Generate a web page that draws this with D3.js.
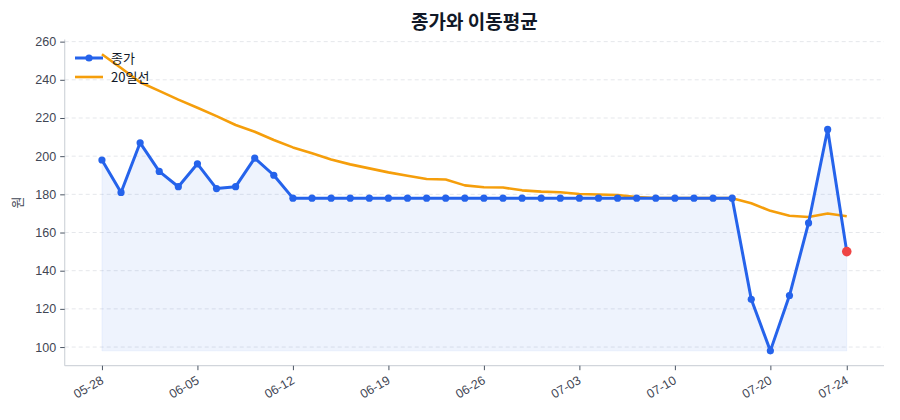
<!DOCTYPE html>
<html>
<head>
<meta charset="utf-8">
<script src="https://cdn.jsdelivr.net/npm/d3@7"></script>
<style>
  body { margin: 0; background: #fff; }
  svg { font-family: "Noto Sans CJK KR", "Noto Sans", sans-serif; }
</style>
</head>
<body>
<svg id="chart" width="900" height="420"></svg>
<script>
// trading dates (MM-DD)
const dates = [
  "05-28", "05-29", "05-30", "06-02", "06-04", "06-05", "06-08", "06-09", "06-10", "06-11",
  "06-12", "06-15", "06-16", "06-17", "06-18", "06-19", "06-22", "06-23", "06-24", "06-25",
  "06-26", "06-29", "06-30", "07-01", "07-02", "07-03", "07-06", "07-07", "07-08", "07-09",
  "07-10", "07-13", "07-14", "07-15", "07-17", "07-20", "07-21", "07-22", "07-23", "07-24"
];

// closing price
const closes = [
  198, 181, 207, 192, 184, 196, 183, 184, 199, 190,
  178, 178, 178, 178, 178, 178, 178, 178, 178, 178,
  178, 178, 178, 178, 178, 178, 178, 178, 178, 178,
  178, 178, 178, 178, 125, 98, 127, 165, 214, 150
];

// 20-day moving average
const ma20 = [
  253.4, 246.2, 238.7, 234.2, 229.6, 225.4, 221.0, 216.3, 212.8, 208.5,
  204.6, 201.5, 198.3, 195.7, 193.6, 191.5, 189.7, 188.0, 187.8, 184.7,
  183.7, 183.55, 182.1, 181.4, 181.1, 180.2, 179.95, 179.65, 178.6, 178,
  178, 178, 178, 178, 175.35, 171.35, 168.8, 168.15, 169.95, 168.55
];

const xTicks = ["05-28", "06-05", "06-12", "06-19", "06-26", "07-03", "07-10", "07-20", "07-24"];
const yTicks = [100, 120, 140, 160, 180, 200, 220, 240, 260];

const margin = {top: 39.4, right: 16, bottom: 54.3, left: 64.7},
    width = 900 - margin.left - margin.right,
    height = 420 - margin.top - margin.bottom;

const blue = "#2563eb", orange = "#f59e0b", red = "#ef4444";

const svg = d3.select("#chart");
const g = svg.append("g")
    .attr("transform", "translate(" + margin.left + "," + margin.top + ")");

// 5% padding like the original
const n = dates.length;
const xScale = d3.scaleLinear()
    .domain([-0.05 * (n - 1), (n - 1) * 1.05])
    .range([0, width]);

const lo = d3.min(closes.concat(ma20)), hi = d3.max(closes.concat(ma20));
const pad = (hi - lo) * 0.05;
const yScale = d3.scaleLinear()
    .domain([lo - pad, hi + pad])
    .range([height, 0]);

// grid
g.append("g")
    .selectAll("line").data(yTicks)
    .enter().append("line")
    .attr("x1", 0).attr("x2", width)
    .attr("y1", d => yScale(d)).attr("y2", d => yScale(d))
    .attr("stroke", "#e5e7eb")
    .attr("stroke-width", 1)
    .attr("stroke-dasharray", "4,3");

// shaded area down to the minimum close
const baseVal = d3.min(closes);
const area = d3.area()
    .x((d, i) => xScale(i))
    .y0(yScale(baseVal))
    .y1(d => yScale(d));
g.append("path")
    .datum(closes)
    .attr("d", area)
    .attr("fill", blue)
    .attr("fill-opacity", 0.08)
    .attr("stroke", blue)
    .attr("stroke-opacity", 0.06);

// moving average
const line = d3.line()
    .x((d, i) => xScale(i))
    .y(d => yScale(d));
g.append("path")
    .datum(ma20)
    .attr("d", line)
    .attr("fill", "none")
    .attr("stroke", orange)
    .attr("stroke-width", 2.6)
    .attr("stroke-linejoin", "round");

// close line + markers
g.append("path")
    .datum(closes)
    .attr("d", line)
    .attr("fill", "none")
    .attr("stroke", blue)
    .attr("stroke-width", 3)
    .attr("stroke-linejoin", "round");

g.append("g")
    .selectAll("circle").data(closes.slice(0, n - 1))
    .enter().append("circle")
    .attr("cx", (d, i) => xScale(i))
    .attr("cy", d => yScale(d))
    .attr("r", 3.6)
    .attr("fill", blue);

// last point highlight
g.append("circle")
    .attr("cx", xScale(n - 1))
    .attr("cy", yScale(closes[n - 1]))
    .attr("r", 4.8)
    .attr("fill", red);

// axes
const yAxis = d3.axisLeft(yScale)
    .tickValues(yTicks)
    .tickSize(4.5)
    .tickPadding(4);
const yG = g.append("g").call(yAxis);
yG.select(".domain").attr("stroke", "#d1d5db").attr("stroke-width", 1.2)
    .attr("d", "M0," + height + "V0");
yG.selectAll(".tick line").attr("stroke", "#4b5563");
yG.selectAll(".tick text")
    .attr("fill", "#3f4654")
    .style("font-size", "12.5px");

const xAxis = d3.axisBottom(xScale)
    .tickValues(xTicks.map(t => dates.indexOf(t)))
    .tickFormat(i => dates[i])
    .tickSize(4.5);
const xG = g.append("g")
    .attr("transform", "translate(0," + height + ")")
    .call(xAxis);
xG.select(".domain").attr("stroke", "#d1d5db").attr("stroke-width", 1.2)
    .attr("d", "M0,0H" + width);
xG.selectAll(".tick line").attr("stroke", "#4b5563");
xG.selectAll(".tick text")
    .attr("fill", "#3f4654")
    .style("font-size", "12.5px")
    .attr("text-anchor", "end")
    .attr("dy", null)
    .attr("y", 0)
    .attr("transform", "translate(2,17) rotate(-30)");

// y label
svg.append("text")
    .attr("transform", "translate(22," + (margin.top + height / 2) + ") rotate(-90)")
    .attr("text-anchor", "middle")
    .attr("fill", "#3f4654")
    .style("font-size", "13px")
    .text("원");

// title
svg.append("text")
    .attr("x", margin.left + width / 2)
    .attr("y", 29)
    .attr("text-anchor", "middle")
    .attr("fill", "#111827")
    .style("font-size", "19px")
    .style("font-weight", "bold")
    .text("종가와 이동평균");

// legend
const legend = svg.append("g").attr("transform", "translate(75,58)");
legend.append("line")
    .attr("x1", 0).attr("x2", 28).attr("y1", 0).attr("y2", 0)
    .attr("stroke", blue).attr("stroke-width", 3);
legend.append("circle")
    .attr("cx", 14).attr("cy", 0).attr("r", 3.6).attr("fill", blue);
legend.append("text")
    .attr("x", 36).attr("y", 4.5)
    .attr("fill", "#111827")
    .style("font-size", "13px")
    .text("종가");
legend.append("line")
    .attr("x1", 0).attr("x2", 28).attr("y1", 19).attr("y2", 19)
    .attr("stroke", orange).attr("stroke-width", 2.6);
legend.append("text")
    .attr("x", 36).attr("y", 23.5)
    .attr("fill", "#111827")
    .style("font-size", "13px")
    .text("20일선");
</script>
</body>
</html>
